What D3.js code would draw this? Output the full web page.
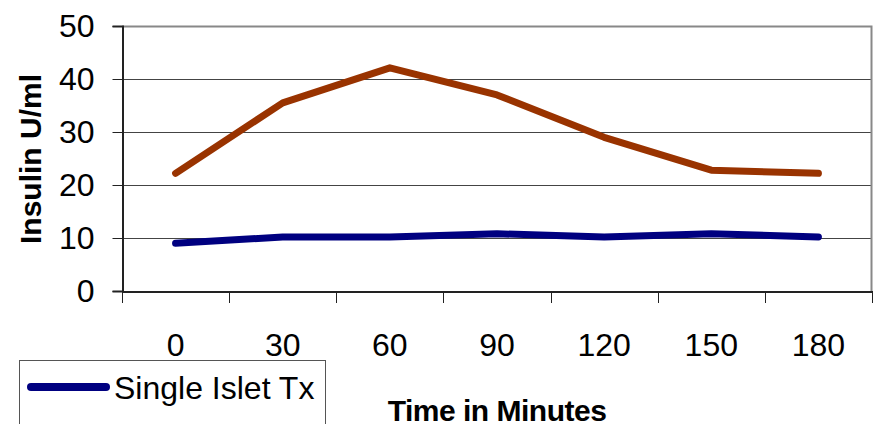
<!DOCTYPE html>
<html>
<head>
<meta charset="utf-8">
<script src="https://cdn.jsdelivr.net/npm/d3@7"></script>
<style>
  html, body { margin: 0; padding: 0; background: #fff; }
  svg { display: block; font-family: "Liberation Sans", Arial, sans-serif; }
</style>
</head>
<body>
<div id="chart"></div>
<script>
var categories = ['0', '30', '60', '90', '120', '150', '180'];
var singleIslet = [9, 10.2, 10.2, 10.8, 10.2, 10.8, 10.2];
var otherSeries = [22.2, 35.5, 42.1, 37, 29, 22.8, 22.2];
var yTicks = [0, 10, 20, 30, 40, 50];

var width = 876, height = 424;
var margin = { top: 26, right: 4, bottom: 133, left: 122 };

var svg = d3.select('#chart').append('svg')
  .attr('width', width)
  .attr('height', height);

var x = d3.scaleBand()
  .domain(categories)
  .range([margin.left, width - margin.right]);

var y = d3.scaleLinear()
  .domain([0, 50])
  .range([height - margin.bottom, margin.top]);

// gridlines
svg.append('g')
  .selectAll('line')
  .data(yTicks.filter(function (d) { return d > 0 && d < 50; }))
  .enter().append('line')
  .attr('x1', margin.left)
  .attr('x2', width - margin.right)
  .attr('y1', function (d) { return Math.round(y(d)) + 0.5; })
  .attr('y2', function (d) { return Math.round(y(d)) + 0.5; })
  .attr('stroke', '#444')
  .attr('stroke-width', 1);

// plot border (top / right)
svg.append('path')
  .attr('d', 'M' + margin.left + ',' + (margin.top + 0.5) + 'H' + (width - margin.right - 0.5) + 'V' + y(0))
  .attr('fill', 'none')
  .attr('stroke', '#888')
  .attr('stroke-width', 2);

// y axis
var yAxis = d3.axisLeft(y).tickValues(yTicks).tickSize(10).tickPadding(18);
var gy = svg.append('g')
  .attr('transform', 'translate(' + (margin.left + 0.5) + ',0)')
  .call(yAxis);
gy.select('.domain').attr('stroke', '#222').attr('stroke-width', 2);
gy.selectAll('.tick line').attr('stroke', '#222');
gy.selectAll('.tick text')
  .attr('font-size', 32)
  .attr('fill', '#000')
  .attr('font-family', '"Liberation Sans", Arial, sans-serif');

// x axis with ticks between categories
var xAxis = d3.axisBottom(x).tickSize(0).tickPadding(42);
var gx = svg.append('g')
  .attr('transform', 'translate(0,' + (y(0) + 0.5) + ')')
  .call(xAxis);
gx.select('.domain').attr('stroke', '#222').attr('stroke-width', 2);
gx.selectAll('.tick text')
  .attr('font-size', 32)
  .attr('fill', '#000')
  .attr('font-family', '"Liberation Sans", Arial, sans-serif');

var edges = categories.map(function (c) { return x(c); }).concat([x.range()[1]]);
svg.append('g')
  .selectAll('line')
  .data(edges)
  .enter().append('line')
  .attr('x1', function (d) { return Math.round(d) + 0.5; })
  .attr('x2', function (d) { return Math.round(d) + 0.5; })
  .attr('y1', y(0))
  .attr('y2', y(0) + 12)
  .attr('stroke', '#222');

// lines
var line = d3.line()
  .x(function (d, i) { return x(categories[i]) + x.bandwidth() / 2; })
  .y(function (d) { return y(d); });

svg.append('path')
  .datum(otherSeries)
  .attr('d', line)
  .attr('fill', 'none')
  .attr('stroke', '#993300')
  .attr('stroke-width', 7)
  .attr('stroke-linecap', 'round')
  .attr('stroke-linejoin', 'round');

svg.append('path')
  .datum(singleIslet)
  .attr('d', line)
  .attr('fill', 'none')
  .attr('stroke', '#000080')
  .attr('stroke-width', 7)
  .attr('stroke-linecap', 'round')
  .attr('stroke-linejoin', 'round');

// axis titles
svg.append('text')
  .attr('transform', 'translate(41,159) rotate(-90)')
  .attr('text-anchor', 'middle')
  .attr('font-size', 30)
  .attr('font-weight', 'bold')
  .text('Insulin U/ml');

svg.append('text')
  .attr('x', 497)
  .attr('y', 421)
  .attr('text-anchor', 'middle')
  .attr('font-size', 30)
  .attr('font-weight', 'bold')
  .attr('letter-spacing', -0.5)
  .text('Time in Minutes');

// legend
var legend = svg.append('g');
legend.append('rect')
  .attr('x', 19.5)
  .attr('y', 360.5)
  .attr('width', 306)
  .attr('height', 80)
  .attr('fill', '#fff')
  .attr('stroke', '#555');
legend.append('line')
  .attr('x1', 31)
  .attr('x2', 106)
  .attr('y1', 387)
  .attr('y2', 387)
  .attr('stroke', '#000080')
  .attr('stroke-width', 8)
  .attr('stroke-linecap', 'round');
legend.append('text')
  .attr('x', 114)
  .attr('y', 399)
  .attr('font-size', 32)
  .text('Single Islet Tx');
</script>
</body>
</html>
